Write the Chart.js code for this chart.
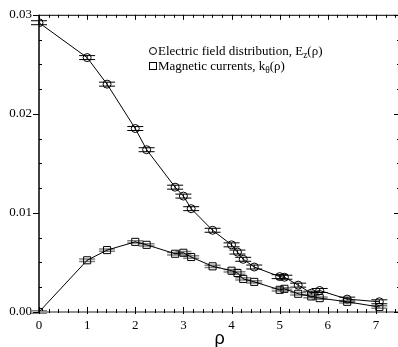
<!DOCTYPE html>
<html>
<head>
<meta charset="utf-8">
<script src="https://cdn.jsdelivr.net/npm/chart.js@4"></script>
<style>
  body { margin: 0; overflow: hidden; background: #fff; }
  #wrap { position: relative; width: 400px; height: 347px; }
  .leg { position: absolute; left: 158px; font-family: 'Liberation Serif', serif; font-size: 13px; line-height: 14px; color: #000; white-space: nowrap; }
  .sub { font-size: 9.5px; position: relative; top: 3px; }
  .mk { position: absolute; left: 149px; width: 6px; height: 6px; border: 1px solid #000; }
</style>
</head>
<body>
<div id="wrap">
  <canvas id="chart" width="400" height="347"></canvas>
  <div class="mk" style="top:47px;border-radius:50%"></div>
  <div class="leg" style="top:44px">Electric field distribution, E<span class="sub">z</span>(ρ)</div>
  <div class="mk" style="top:62px"></div>
  <div class="leg" style="top:58.5px">Magnetic currents, k<span class="sub">θ</span>(ρ)</div>
</div>
<script>
// radial positions
var rho = [0, 1, 1.414, 2, 2.236, 2.828, 3, 3.162, 3.606, 4, 4.123, 4.243, 4.472, 5, 5.099, 5.385, 5.657, 5.831, 6.403, 7.071];
// electric field E_z
var ez = [0.0292, 0.02568, 0.0230, 0.01852, 0.01638, 0.0126, 0.0117, 0.01043, 0.00825, 0.00678, 0.00605, 0.00532, 0.00454, 0.00357, 0.00351, 0.00271, 0.0019, 0.00217, 0.0013, 0.00103];
var ezErr = [0.0002, 0.0002, 0.0002, 0.0002, 0.0002, 0.0002, 0.0002, 0.0002, 0.0002, 0.0002, 0.0002, 0.0002, 0.0002, 0.0002, 0.0002, 0.0002, 0.0002, 0.0002, 0.0002, 0.0002];
// magnetic currents k_theta
var kt = [0, 0.00522, 0.00625, 0.00708, 0.00678, 0.00588, 0.00598, 0.00555, 0.00461, 0.00417, 0.00394, 0.00334, 0.00304, 0.00224, 0.00234, 0.00184, 0.00157, 0.0014, 0.00103, 0.0005];
var ktErr = [0.00012, 0.00012, 0.00012, 0.00012, 0.00012, 0.00012, 0.00012, 0.00012, 0.00012, 0.00012, 0.00012, 0.00012, 0.00012, 0.00012, 0.00012, 0.00012, 0.00012, 0.00012, 0.00012, 0.00012];
var yTicks = [0, 0.01, 0.02, 0.03];

function pts(ys) {
  return rho.map(function (r, i) { return { x: r, y: ys[i] }; });
}

// error bars drawn under the markers
var errorBars = {
  id: 'errorBars',
  beforeDatasetsDraw: function (chart) {
    var ctx = chart.ctx;
    var xs = chart.scales.x, ys = chart.scales.y;
    var sets = [[ez, ezErr, '#000', 1], [kt, ktErr, '#808080', 1.5]];
    ctx.save();
    sets.forEach(function (s) {
      ctx.strokeStyle = s[2];
      ctx.lineWidth = s[3];
      for (var i = 0; i < rho.length; i++) {
        var px = xs.getPixelForValue(rho[i]);
        var top = ys.getPixelForValue(s[0][i] + s[1][i]);
        var bot = ys.getPixelForValue(s[0][i] - s[1][i]);
        ctx.beginPath();
        ctx.moveTo(px, top); ctx.lineTo(px, bot);
        ctx.moveTo(px - 8, top); ctx.lineTo(px + 8, top);
        ctx.moveTo(px - 8, bot); ctx.lineTo(px + 8, bot);
        ctx.stroke();
      }
    });
    ctx.restore();
  }
};

// frame with inward minor ticks
var frame = {
  id: 'frame',
  afterDraw: function (chart) {
    var ctx = chart.ctx, a = chart.chartArea;
    var xs = chart.scales.x, ys = chart.scales.y;
    ctx.save();
    ctx.strokeStyle = '#000';
    ctx.lineWidth = 1;
    ctx.beginPath();
    ctx.moveTo(a.left, a.top + 0.5); ctx.lineTo(a.right, a.top + 0.5);
    ctx.stroke();
    ctx.lineWidth = 1.5;
    ctx.beginPath();
    ctx.moveTo(a.left, a.top); ctx.lineTo(a.left, a.bottom);
    ctx.stroke();
    ctx.strokeStyle = '#909090';
    ctx.lineWidth = 2;
    ctx.beginPath();
    ctx.moveTo(a.left, a.bottom); ctx.lineTo(a.right, a.bottom);
    ctx.stroke();

    ctx.strokeStyle = '#000';
    ctx.lineWidth = 1;
    ctx.beginPath();
    for (var i = 0; i <= 37; i++) {
      var px = Math.round(xs.getPixelForValue(i / 5)) + 0.5;
      var major = i % 5 === 0;
      ctx.moveTo(px, a.bottom + (major ? 2 : 1));
      ctx.lineTo(px, a.bottom - (major ? 5 : 3));
      ctx.moveTo(px, a.top);
      ctx.lineTo(px, a.top + (major ? 5 : 3));
    }
    for (var j = 0; j <= 12; j++) {
      var py = Math.round(ys.getPixelForValue(j * 0.0025)) + 0.5;
      var maj = j % 4 === 0;
      if (maj) {
        ctx.moveTo(a.left - 6, py); ctx.lineTo(a.left, py);
        ctx.moveTo(a.right, py); ctx.lineTo(a.right - 6, py);
      } else {
        ctx.moveTo(a.left, py); ctx.lineTo(a.left + 3, py);
        ctx.moveTo(a.right, py); ctx.lineTo(a.right - 3, py);
      }
    }
    ctx.stroke();
    ctx.restore();
  }
};

var ctx = document.getElementById('chart').getContext('2d');
var chart = new Chart(ctx, {
  type: 'scatter',
  data: {
    datasets: [
      {
        label: 'Electric field distribution, Ez(ρ)',
        data: pts(ez),
        showLine: true,
        borderColor: '#000',
        borderWidth: 1,
        backgroundColor: 'rgba(0,0,0,0)',
        pointStyle: 'circle',
        pointRadius: 4,
        pointBorderWidth: 1,
        pointBorderColor: '#000',
        pointBackgroundColor: 'rgba(0,0,0,0)',
        tension: 0
      },
      {
        label: 'Magnetic currents, kθ(ρ)',
        data: pts(kt),
        showLine: true,
        borderColor: '#000',
        borderWidth: 1,
        backgroundColor: 'rgba(0,0,0,0)',
        pointStyle: 'rect',
        pointRadius: 5,
        pointBorderWidth: 1,
        pointBorderColor: '#000',
        pointBackgroundColor: 'rgba(0,0,0,0)',
        tension: 0
      }
    ]
  },
  options: {
    responsive: false,
    animation: false,
    layout: { autoPadding: false, padding: { top: 13, right: 0, left: 0, bottom: 0 } },
    plugins: {
      legend: { display: false },
      tooltip: { enabled: false }
    },
    scales: {
      x: {
        type: 'linear',
        min: 0,
        max: 7.5,
        grid: { display: false, drawTicks: false },
        border: { display: false },
        afterFit: function (s) { s.height = 35; },
        ticks: {
          stepSize: 1,
          includeBounds: false,
          padding: 6,
          color: '#000',
          font: { family: 'Liberation Serif', size: 13 },
          callback: function (v) { return v; }
        },
        title: {
          display: true,
          text: 'ρ',
          color: '#000',
          padding: { top: 0, bottom: -3 },
          font: { family: 'Liberation Sans', size: 18 }
        }
      },
      y: {
        min: 0,
        max: 0.03,
        afterFit: function (s) { s.width = 39; },
        afterBuildTicks: function (s) { s.ticks = yTicks.map(function (v) { return { value: v }; }); },
        grid: { display: false, drawTicks: false },
        border: { display: false },
        ticks: {
          padding: 7,
          color: '#000',
          font: { family: 'Liberation Serif', size: 13 },
          callback: function (v) { return v.toFixed(2); }
        }
      }
    }
  },
  plugins: [errorBars, frame]
});
</script>
</body>
</html>
